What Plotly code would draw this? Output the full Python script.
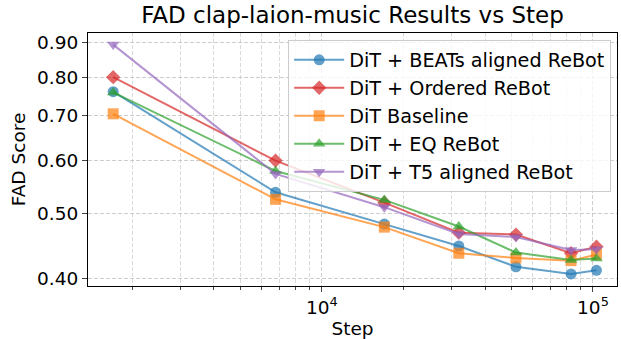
import plotly.graph_objects as go

steps = [1700, 6750, 17000, 32000, 52000, 83000, 103000]
beats = [0.761, 0.538, 0.482, 0.447, 0.416, 0.406, 0.411]
ordered = [0.800, 0.600, 0.519, 0.468, 0.465, 0.436, 0.446]
baseline = [0.705, 0.525, 0.477, 0.436, 0.429, 0.425, 0.434]
eq = [0.759, 0.579, 0.524, 0.478, 0.437, 0.426, 0.428]
t5 = [0.895, 0.573, 0.511, 0.466, 0.461, 0.441, 0.442]

series = [
    ("DiT + BEATs aligned ReBot", beats, "rgba(31,119,180,0.7)", "circle"),
    ("DiT + Ordered ReBot", ordered, "rgba(214,39,40,0.7)", "diamond"),
    ("DiT Baseline", baseline, "rgba(255,127,14,0.7)", "square"),
    ("DiT + EQ ReBot", eq, "rgba(44,160,44,0.7)", "triangle-up"),
    ("DiT + T5 aligned ReBot", t5, "rgba(148,103,189,0.7)", "triangle-down"),
]

y_ticks = [0.4, 0.5, 0.6, 0.7, 0.8, 0.9]
y_ticktext = ["0.40", "0.50", "0.60", "0.70", "0.80", "0.90"]
x_ticks = [1e4, 1e5]
x_ticktext = ["10<sup>4</sup>", "10<sup>5</sup>"]
x_minor = [2000, 3000, 4000, 5000, 6000, 7000, 8000, 9000,
           20000, 30000, 40000, 50000, 60000, 70000, 80000, 90000, 200000]

fig = go.Figure()
for i, (name, vals, col, sym) in enumerate(series):
    fig.add_trace(go.Scatter(
        x=steps, y=vals, name=name, mode="lines+markers",
        line=dict(color=col, width=2),
        marker=dict(symbol=sym, size=11, color=col),
    ))

font = "DejaVu Sans"
grid_col = "rgba(180,180,180,0.65)"
fig.update_layout(
    width=621, height=339,
    margin=dict(l=88, r=4, t=33, b=53),
    paper_bgcolor="white", plot_bgcolor="white",
    font=dict(family=font, size=18.5, color="black"),
    title=dict(text="FAD clap-laion-music Results vs Step", x=0.5, xref="paper",
               xanchor="center", yref="container", y=0.955, yanchor="middle",
               font=dict(size=23, family=font)),
    legend=dict(x=0.989, y=0.973, xanchor="right", yanchor="top",
                bgcolor="rgba(255,255,255,0.8)", bordercolor="#cccccc", borderwidth=1,
                font=dict(size=19.2, family=font), itemwidth=50),
    showlegend=True,
)
fig.update_xaxes(
    type="log", range=[3.1376, 5.0886],
    tickvals=x_ticks, ticktext=x_ticktext, ticks="outside", ticklen=5,
    showline=True, linecolor="black", linewidth=1, mirror=True,
    showgrid=True, gridcolor=grid_col, griddash="4px,2px", gridwidth=1,
    minor=dict(tickvals=x_minor, ticks="outside", ticklen=3, showgrid=True,
               gridcolor="rgba(180,180,180,0.5)", griddash="4px,2px", gridwidth=1),
    title=dict(text="Step", font=dict(size=18.5), standoff=2),
    zeroline=False, automargin=False,
)
fig.update_yaxes(
    type="log", range=[-0.4096, -0.0308],
    tickvals=y_ticks, ticktext=y_ticktext, ticks="outside", ticklen=5,
    showline=True, linecolor="black", linewidth=1, mirror=True,
    showgrid=True, gridcolor=grid_col, griddash="4px,2px", gridwidth=1,
    title=dict(text="FAD Score", font=dict(size=18.5), standoff=6),
    zeroline=False, automargin=False,
)
fig.write_html("out.html", config={"displayModeBar": False},
               post_script="document.body.style.margin='0';")
